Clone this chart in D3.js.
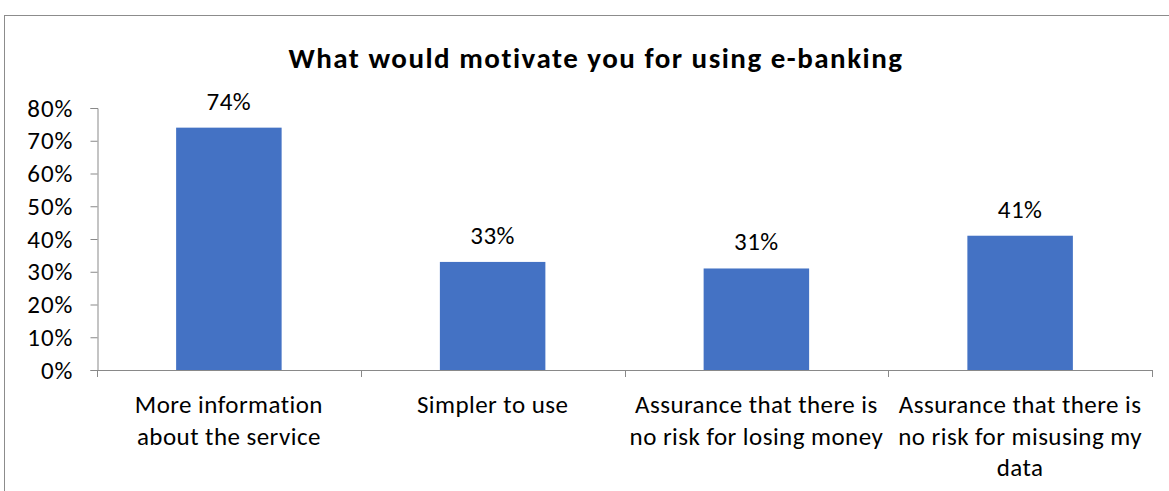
<!DOCTYPE html>
<html>
<head>
<meta charset="utf-8">
<script src="https://cdn.jsdelivr.net/npm/d3@7"></script>
<style>
  html, body { margin: 0; padding: 0; background: #fff; }
  svg { display: block; font-family: Carlito, Calibri, Lato, "Liberation Sans", sans-serif; }
</style>
</head>
<body>
<svg id="chart" width="1169" height="491"></svg>
<script>
// Survey answers: share of respondents choosing each motivation
const categories = [
  "More information\nabout the service",
  "Simpler to use",
  "Assurance that there is\nno risk for losing money",
  "Assurance that there is\nno risk for misusing my\ndata"
];
const values = [0.74, 0.33, 0.31, 0.41];
const yTicks = [0, 0.1, 0.2, 0.3, 0.4, 0.5, 0.6, 0.7, 0.8];
const title = "What would motivate you for using e-banking";

const svg = d3.select("#chart");
const W = 1169, H = 491;
const plot = { left: 97, right: 1152, top: 108, bottom: 370 };
const axisColor = "#898989";
const labelSize = 25, labelSpacing = 0.45;

// Outer chart frame (runs off the right and bottom edges)
svg.append("rect")
  .attr("x", 4.5).attr("y", 15.5)
  .attr("width", W + 10).attr("height", H + 10)
  .attr("fill", "#fff").attr("stroke", "#8c8c8c").attr("stroke-width", 1);

const x = d3.scaleBand()
  .domain(categories)
  .range([plot.left, plot.right])
  .paddingInner(0.6)
  .paddingOuter(0.3);

const y = d3.scaleLinear()
  .domain([0, 0.8])
  .range([plot.bottom, plot.top]);

// Title
svg.append("text")
  .attr("x", 596).attr("y", 68)
  .attr("text-anchor", "middle")
  .attr("font-size", 29).attr("font-weight", "bold")
  .attr("letter-spacing", 1.5)
  .attr("fill", "#000")
  .text(title);

// Y axis
const yAxis = d3.axisLeft(y)
  .tickValues(yTicks)
  .tickFormat(d3.format(".0%"))
  .tickSize(7)
  .tickPadding(17);
const gy = svg.append("g")
  .attr("transform", `translate(${plot.left + 0.5},0)`)
  .call(yAxis);
gy.attr("font-family", null).attr("font-size", null);
gy.select(".domain").attr("stroke", axisColor);
gy.selectAll(".tick line").attr("stroke", axisColor);
gy.selectAll(".tick text")
  .attr("font-size", labelSize).attr("letter-spacing", 1)
  .attr("fill", "#000");

// Bars
svg.append("g").selectAll("rect")
  .data(values)
  .join("rect")
  .attr("x", (d, i) => x(categories[i]))
  .attr("y", d => y(d))
  .attr("width", x.bandwidth())
  .attr("height", d => y(0) - y(d))
  .attr("fill", "#4472c4");

// X axis with ticks at category boundaries
const step = x.step();
const boundaries = d3.range(categories.length + 1).map(i => plot.left + i * step);
const gx = svg.append("g");
gx.append("line")
  .attr("x1", plot.left).attr("x2", plot.right)
  .attr("y1", plot.bottom + 0.5).attr("y2", plot.bottom + 0.5)
  .attr("stroke", axisColor);
gx.selectAll("line.tk")
  .data(boundaries)
  .join("line")
  .attr("class", "tk")
  .attr("x1", d => Math.round(d) + 0.5).attr("x2", d => Math.round(d) + 0.5)
  .attr("y1", plot.bottom).attr("y2", plot.bottom + 7)
  .attr("stroke", axisColor);

// Category labels (multi-line)
const catLabels = svg.append("g").selectAll("text")
  .data(categories)
  .join("text")
  .attr("text-anchor", "middle")
  .attr("font-size", labelSize).attr("letter-spacing", labelSpacing)
  .attr("fill", "#000");
catLabels.each(function (d) {
  const cx = x(d) + x.bandwidth() / 2;
  d3.select(this).selectAll("tspan")
    .data(d.split("\n"))
    .join("tspan")
    .attr("x", cx)
    .attr("y", (t, j) => 413 + j * 31.5)
    .text(t => t);
});

// Value labels above bars
svg.append("g").selectAll("text")
  .data(values)
  .join("text")
  .attr("x", (d, i) => x(categories[i]) + x.bandwidth() / 2)
  .attr("y", d => y(d) - 18)
  .attr("text-anchor", "middle")
  .attr("font-size", labelSize).attr("letter-spacing", labelSpacing)
  .attr("fill", "#000")
  .text(d => d3.format(".0%")(d));
</script>
</body>
</html>
